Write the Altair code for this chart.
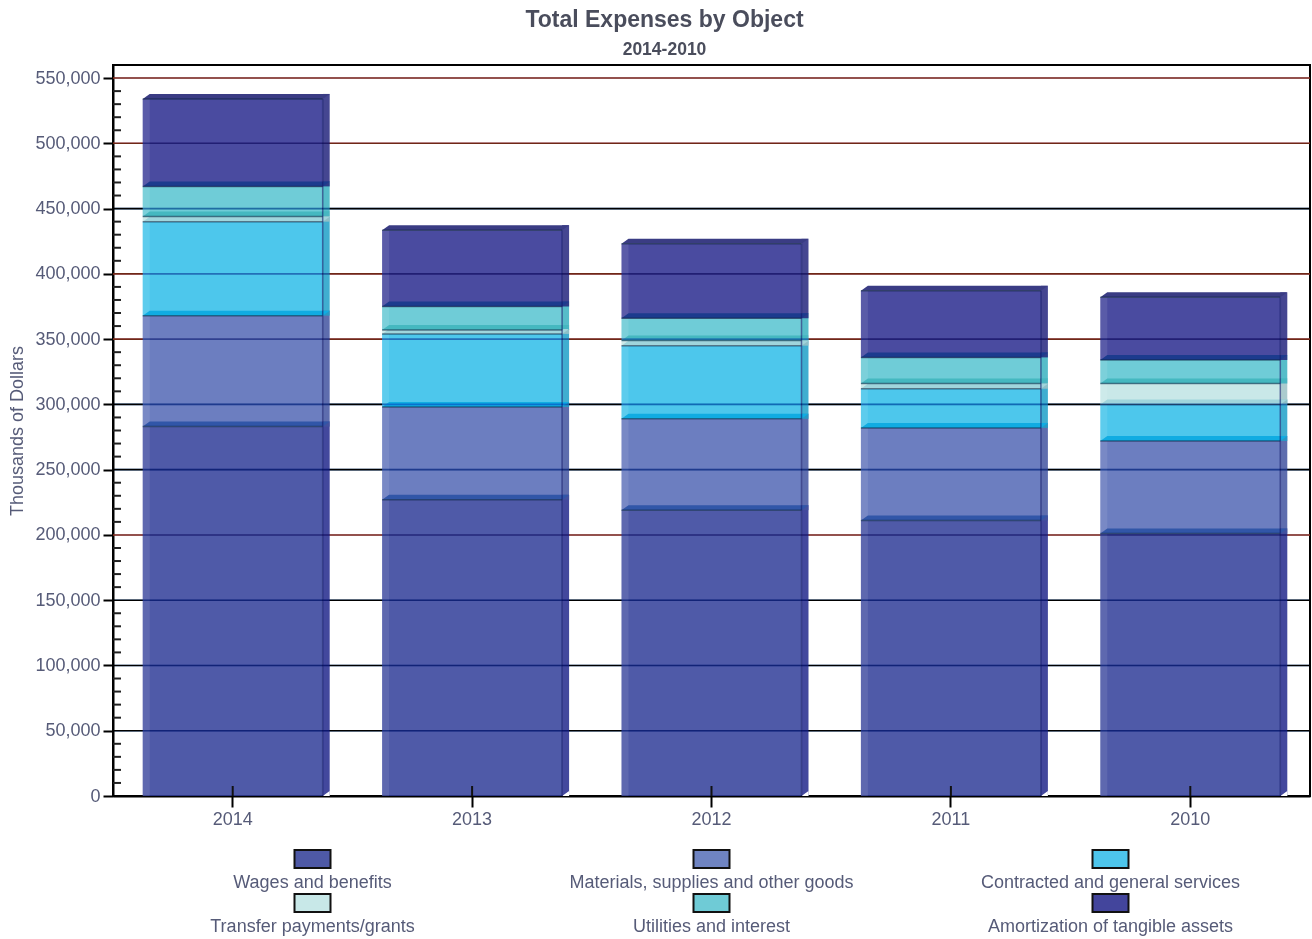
import altair as alt
import pandas as pd

years = ["2014", "2013", "2012", "2011", "2010"]
series = [
    "Wages and benefits",
    "Materials, supplies and other goods",
    "Contracted and general services",
    "Transfer payments/grants",
    "Utilities and interest",
    "Amortization of tangible assets",
]

# Expense amounts in thousands of dollars, one list per object, ordered as years
wages = [283000, 227000, 219000, 211000, 201000]
materials = [85000, 71000, 70000, 71000, 71000]
contracted = [72000, 56000, 56000, 30000, 28000]
transfers = [4000, 3000, 4000, 4000, 16000]
utilities = [23000, 18000, 17000, 20000, 18000]
amortization = [67000, 58500, 57000, 51000, 48000]
amounts = [wages, materials, contracted, transfers, utilities, amortization]

front_colors = ["#303d99", "#5267b5", "#2ebde9", "#c0e4e4", "#56c3d0", "#2a2c8f"]
top_colors = ["#3156a8", "#10ace2", "#a0d5dc", "#45b8c0", "#1c3b8e", "#3a3c84"]
side_colors = ["#22288c", "#4254a0", "#1fa0c8", "#9cc2c6", "#38b2bf", "#24267e"]
swatch_colors = ["#4e59a6", "#6f84c2", "#4dc5ec", "#c8e8e8", "#6fcbd6", "#43459c"]

grid_values = [50000, 100000, 150000, 200000, 250000, 300000, 350000, 400000, 450000, 500000, 550000]
grid_colors = ["#000000", "#000000", "#000000", "#ff3c18", "#000000", "#000000",
               "#ff3c18", "#ff3c18", "#000000", "#ff3c18", "#ff3c18"]
major_ticks = [0] + grid_values
minor_ticks = [v for v in range(10000, 550000, 10000) if v % 50000]

legend_cols = [0, 1, 2, 0, 1, 2]
legend_rows = [0, 0, 0, 1, 1, 1]

FONT = "Liberation Sans"
TEXT = "#565b78"
FACE_OPACITY = 0.85

rows = []
for yi, year in enumerate(years):
    base = 0
    for si, name in enumerate(series):
        top = base + amounts[si][yi]
        rows.append(dict(year=year, series=name, bottom=base, top=top,
                         front=front_colors[si], roof=top_colors[si], side=side_colors[si]))
        base = top
segments = pd.DataFrame(rows)
totals = segments.groupby("year", as_index=False)["top"].max()
grid = pd.DataFrame(dict(value=grid_values, color=grid_colors))
minor = pd.DataFrame(dict(value=minor_ticks))
ground = pd.DataFrame(dict(year=years))

y_scale = alt.Scale(domain=[0, 560000], nice=False)
x = alt.X("year:N", sort=years, title=None,
          scale=alt.Scale(paddingInner=0, paddingOuter=0),
          axis=alt.Axis(labelAngle=0, labelFont=FONT, labelFontSize=18, labelColor=TEXT,
                        tickSize=11, tickWidth=2, tickColor="#000000",
                        domainWidth=2, domainColor="#000000", labelPadding=3))
y_axis = alt.Axis(values=major_ticks, format=",.0f", labelFont=FONT, labelFontSize=18,
                  labelColor=TEXT, titleFont=FONT, titleFontSize=18, titleColor=TEXT,
                  titleFontWeight="normal", tickSize=10, tickWidth=2, tickColor="#000000",
                  domainWidth=2, domainColor="#000000", grid=False, titlePadding=8, labelPadding=3)
y = alt.Y("top:Q", title="Thousands of Dollars", scale=y_scale, axis=y_axis)

# Custom symbol paths: one path unit is 100 px at this symbol size
UNIT_SIZE = 40000
ROOF = "M-0.9 0 L0.9 0 L0.97 -0.05 L-0.83 -0.05 Z"
EDGE = "M-0.9 0 L0.9 0"
NOTCH = "M0.9 0 L0.97 0 L0.97 -0.05 Z"

gridlines = alt.Chart(grid).mark_rule(strokeWidth=1.6).encode(
    y=alt.Y("value:Q", title="Thousands of Dollars", scale=y_scale, axis=y_axis),
    color=alt.Color("color:N", scale=None))

sides = alt.Chart(segments).mark_bar(size=7, xOffset=93.5, yOffset=-5, opacity=FACE_OPACITY).encode(
    x=x, y=y, y2="bottom:Q", color=alt.Color("side:N", scale=None))

notches = alt.Chart(ground).mark_point(shape=NOTCH, size=UNIT_SIZE, filled=True, opacity=1,
                                       strokeWidth=0, color="#ffffff").encode(
    x=x, y=alt.datum(0))

fronts = alt.Chart(segments).mark_bar(size=180, opacity=FACE_OPACITY).encode(
    x=x, y=y, y2="bottom:Q", color=alt.Color("front:N", scale=None))

strips = alt.Chart(totals).mark_bar(size=7, xOffset=-86.5, color="#ffffff", opacity=0.09).encode(
    x=x, y=y, y2=alt.datum(0))

roofs = alt.Chart(segments).mark_point(shape=ROOF, size=UNIT_SIZE, filled=True, opacity=1,
                                       strokeWidth=0).encode(
    x=x, y=y, color=alt.Color("roof:N", scale=None))

edges = alt.Chart(segments).mark_point(shape=EDGE, size=UNIT_SIZE, filled=False, opacity=0.55,
                                       strokeWidth=1.5, color="#0c2340").encode(
    x=x, y=y)

right_edges = alt.Chart(totals).mark_rule(xOffset=90, strokeWidth=1.5, color="#141a6a", opacity=0.6).encode(
    x=x, y=y, y2=alt.datum(0))

# Gridlines tint whatever face they cross; multiply deepens the lines drawn on white
tinted_grid = alt.Chart(grid).mark_rule(strokeWidth=1.6, color="#6fa8ea", blend="multiply").encode(
    y=alt.Y("value:Q"))

minor_marks = alt.Chart(minor).mark_rule(strokeWidth=2, color="#222222").encode(
    y=alt.Y("value:Q"), x=alt.value(0), x2=alt.value(8))

inner_ticks = alt.Chart(ground).mark_rule(strokeWidth=2, color="#111111").encode(
    x=x, y=alt.value(721), y2=alt.value(731))

main = alt.layer(gridlines, sides, notches, fronts, strips, roofs, edges, right_edges,
                 tinted_grid, minor_marks, inner_ticks).properties(
    width=1197, height=731,
    view=alt.ViewBackground(stroke="#000000", strokeWidth=2),
    title=alt.TitleParams(
        "Total Expenses by Object", subtitle="2014-2010", font=FONT, fontSize=23, fontWeight="bold",
        color="#4a4d5c", subtitleFont=FONT, subtitleFontSize=17.5, subtitleFontWeight="bold",
        subtitleColor="#4a4d5c", anchor="middle", dx=-47, offset=7, subtitlePadding=9))

legend_data = pd.DataFrame(dict(series=series, col=legend_cols, row=legend_rows, color=swatch_colors))
lx = alt.X("col:O", axis=None, scale=alt.Scale(paddingInner=0, paddingOuter=0))
ly = alt.Y("row:O", axis=None, scale=alt.Scale(paddingInner=0, paddingOuter=0))
swatches = alt.Chart(legend_data).mark_point(
    shape="M-1 -0.5 L1 -0.5 L1 0.5 L-1 0.5 Z", size=1296, filled=True, opacity=1,
    stroke="#111111", strokeWidth=2, yOffset=-12).encode(
    x=lx, y=ly, fill=alt.Fill("color:N", scale=None))
names = alt.Chart(legend_data).mark_text(font=FONT, fontSize=18, color=TEXT, yOffset=12).encode(
    x=lx, y=ly, text="series:N")
legend_panel = alt.layer(swatches, names).properties(
    width=1197, height=88, view=alt.ViewBackground(stroke=None))

chart = alt.vconcat(main, legend_panel, spacing=17).properties(
    padding=dict(left=7, top=7, right=0, bottom=0), background="#ffffff"
).configure_concat(spacing=17)

chart.save("out.html", embed_options={"renderer": "svg", "actions": False})
